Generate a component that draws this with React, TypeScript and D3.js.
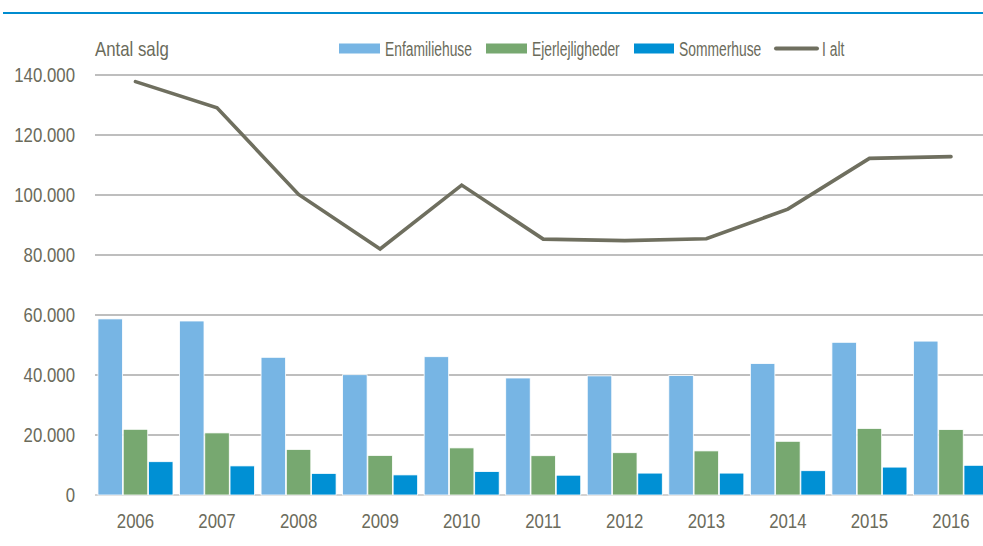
import React from 'react'
import { scaleBand, scaleLinear, line } from 'd3'

const years = ['2006', '2007', '2008', '2009', '2010', '2011', '2012', '2013', '2014', '2015', '2016']
const enfamiliehuse = [58700, 58000, 45900, 40100, 46100, 39000, 39700, 39800, 43800, 50900, 51300]
const ejerlejligheder = [21900, 20700, 15200, 13200, 15700, 13100, 14100, 14700, 17900, 22200, 21800]
const sommerhuse = [11100, 9700, 7200, 6700, 7800, 6600, 7300, 7300, 8100, 9300, 9900]
const iAlt = [137800, 129100, 100200, 82000, 103300, 85300, 84800, 85400, 95300, 112200, 112800]
const yTicks = [0, 20000, 40000, 60000, 80000, 100000, 120000, 140000]
const seriesNames = ['Enfamiliehuse', 'Ejerlejligheder', 'Sommerhuse']

const colors = ['#77b5e4', '#77a870', '#0090d4']
const lineColor = '#6f6f5f'
const textColor = '#6b6b5b'
const font = "'Liberation Sans', Arial, sans-serif"

const fmt = (v: number) => (v === 0 ? '0' : (v / 1000).toFixed(0) + '.000')

// no narrow font installed, so squeeze the regular one
const NText = ({ x, y, anchor = 'start', size = 20.5, sx = 0.82, children }: any) => (
  <text transform={`translate(${x},${y}) scale(${sx},1)`} textAnchor={anchor}
    fontFamily={font} fontSize={size} fill={textColor}>
    {children}
  </text>
)

const App = () => {
  const W = 983
  const H = 546

  const x = scaleBand<string>()
    .domain(years)
    .range([94.7, 991.75])
    .paddingInner(0.08)
    .paddingOuter(0.04)
  const xs = scaleBand<string>()
    .domain(seriesNames)
    .range([0, x.bandwidth()])
    .paddingInner(0.03)
  const y = scaleLinear().domain([0, 140000]).range([495, 75])

  const barData = [enfamiliehuse, ejerlejligheder, sommerhuse]
  const center = (i: number) => (x(years[i]) as number) + x.bandwidth() / 2

  const path = line<number>()
    .x((_, i) => center(i))
    .y(d => y(d))(iAlt)

  return (
    <svg width={W} height={H} style={{ position: 'absolute', left: 0, top: 0, display: 'block' }}>
      {/* title is cut off at the top in the original, only descenders show */}
      <text x={3} y={-3} fontFamily={font} fontWeight="bold" fontSize={16} fill="#000">
        Antal handler på ejerboliger
      </text>
      <rect x={3} y={12} width={W - 3} height={2} fill="#008ccf" />

      {/* grid */}
      {yTicks.map(t => (
        <line key={t} x1={95} x2={W} y1={y(t)} y2={y(t)}
          stroke={t === 0 ? '#c4c4c4' : '#a8a8a8'} strokeWidth={1.5} />
      ))}
      {yTicks.map(t => (
        <NText key={'l' + t} x={75} y={y(t) + 6.5} anchor="end">{fmt(t)}</NText>
      ))}

      {/* bars */}
      {barData.map((vals, s) =>
        vals.map((v, i) => (
          <rect key={s + '-' + i}
            x={(x(years[i]) as number) + (xs(seriesNames[s]) as number)}
            y={y(v)}
            width={xs.bandwidth()}
            height={y(0) - y(v)}
            fill={colors[s]} stroke="#fff" strokeWidth={0.8} />
        ))
      )}

      {/* total line */}
      <path d={path || ''} fill="none" stroke={lineColor} strokeWidth={3.6} strokeLinejoin="miter" strokeLinecap="round" />

      {/* x labels */}
      {years.map((yr, i) => (
        <NText key={yr} x={center(i)} y={528} anchor="middle">{yr}</NText>
      ))}

      <NText x={95} y={56}>Antal salg</NText>

      {/* legend */}
      <rect x={339} y={43.5} width={41} height={10} fill={colors[0]} />
      <NText x={385} y={56} size={19.5} sx={0.71}>{seriesNames[0]}</NText>
      <rect x={486} y={43.5} width={41} height={10} fill={colors[1]} />
      <NText x={532} y={56} size={19.5} sx={0.71}>{seriesNames[1]}</NText>
      <rect x={634} y={43.5} width={40} height={10} fill={colors[2]} />
      <NText x={679} y={56} size={19.5} sx={0.71}>{seriesNames[2]}</NText>
      <line x1={776} x2={817} y1={48.5} y2={48.5} stroke={lineColor} strokeWidth={4} strokeLinecap="round" />
      <NText x={822} y={56} size={19.5} sx={0.71}>I alt</NText>
    </svg>
  )
}

export default App
